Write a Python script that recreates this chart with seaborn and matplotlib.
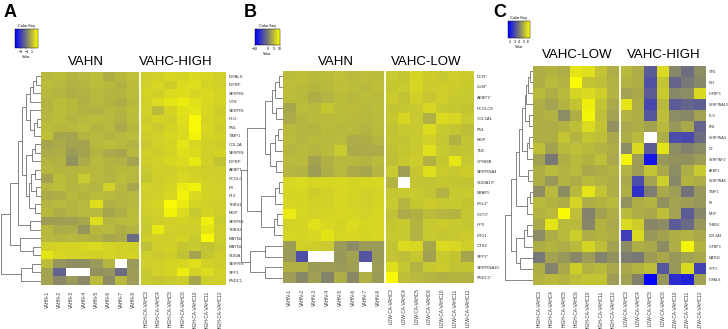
import numpy as np
import pandas as pd
import matplotlib
matplotlib.use("Agg")
import matplotlib.pyplot as plt
import seaborn as sns
from matplotlib.colors import LinearSegmentedColormap, Normalize
from matplotlib.cm import ScalarMappable

nan = np.nan

# ---------------- data ----------------
vahn_cols = ["VAHN-1", "VAHN-2", "VAHN-3", "VAHN-4", "VAHN-5", "VAHN-6", "VAHN-7", "VAHN-8"]
high_cols = ["HIGH-CA-VAHC3", "HIGH-CA-VAHC4", "HIGH-CA-VAHC5", "HIGH-CA-VAHC6",
             "HIGH-CA-VAHC10", "HIGH-CA-VAHC11", "HIGH-CA-VAHC12"]
low_cols = ["LOW-CA-VAHC3", "LOW-CA-VAHC4", "LOW-CA-VAHC5", "LOW-CA-VAHC6",
            "LOW-CA-VAHC10", "LOW-CA-VAHC11", "LOW-CA-VAHC12"]

rows_a = ["IGFALS", "IGFBP", "SERPIN", "VTN", "SERPIN", "PLG", "FN1", "TIMP1", "COL2A",
          "SERPIN", "IGFBP", "AEBP1", "PCOLC", "F9", "F13", "THBS1", "MGP", "SERPIN",
          "THBS2", "MATN4", "MATN2", "S100A", "SERPIN", "SPP1", "FNDC1"]
vals_a = [
    [0.9, 1.0, 0.8, 0.9, 1.0, 0.6, 0.9, 1.1, 1.5, 1.6, 1.8, 1.7, 1.9, 1.8, 1.6],
    [1.0, 0.9, 0.7, 0.8, 1.0, 0.9, 0.7, 1.0, 1.6, 1.8, 1.5, 1.9, 2.0, 1.7, 1.6],
    [0.9, 0.8, 0.6, 0.7, 0.9, 0.8, 0.8, 1.0, 1.7, 1.6, 1.9, 2.0, 1.8, 1.9, 1.7],
    [0.8, 1.0, 0.9, 0.7, 0.9, 0.8, 0.6, 0.9, 1.6, 1.9, 2.2, 2.4, 2.1, 1.8, 1.7],
    [0.8, 1.0, 0.9, 0.8, 0.7, 0.9, 0.8, 1.0, 1.6, 1.0, 1.7, 2.1, 2.2, 1.8, 1.5],
    [0.9, 1.0, 0.8, 0.9, 1.0, 0.9, 0.7, 1.0, 1.5, 1.7, 1.6, 2.0, 2.8, 1.7, 1.6],
    [1.0, 0.9, 0.9, 1.0, 0.8, 0.9, 0.5, 0.9, 1.6, 1.4, 1.7, 1.9, 2.8, 1.8, 1.5],
    [1.1, 0.4, 0.3, 0.8, 0.9, 0.8, 0.9, 1.0, 1.5, 1.6, 1.8, 1.9, 2.6, 1.7, 1.6],
    [0.4, 0.5, 0.3, 0.3, 0.9, 1.0, 0.9, 0.8, 1.4, 1.6, 1.7, 2.2, 1.8, 1.6, 1.5],
    [0.5, 0.6, 0.0, 0.3, 0.8, 0.5, 0.4, 0.9, 1.6, 1.5, 1.7, 2.0, 1.9, 1.6, 1.7],
    [0.8, 0.7, -0.2, 0.5, 0.9, 0.8, 0.7, 0.3, 1.5, 1.6, 1.8, 1.9, 2.3, 1.6, 1.2],
    [0.9, 0.8, 0.8, 0.9, 0.9, 0.8, 0.9, 0.9, 1.4, 1.6, 1.5, 1.7, 1.6, 1.5, 1.5],
    [0.3, 1.0, 0.8, 1.4, 0.9, 0.8, 1.0, 0.9, 1.3, 1.5, 1.6, 1.8, 1.7, 1.6, 1.5],
    [0.9, 1.0, 0.8, 0.9, 0.8, 1.6, 0.9, 0.4, 1.6, 1.5, 1.7, 2.4, 2.6, 1.7, 1.6],
    [0.5, 0.6, 0.9, 0.8, 1.0, 0.9, 0.8, 0.9, 1.5, 1.6, 1.8, 2.6, 1.9, 1.7, 1.6],
    [0.8, 0.9, 0.8, 0.9, 2.0, 0.7, 0.8, 0.9, 1.6, 1.7, 2.8, 2.4, 1.7, 1.6, 1.5],
    [0.9, 0.6, 0.8, 0.9, 0.9, 0.4, 0.6, 1.0, 1.5, 1.6, 2.6, 1.9, 1.4, 1.7, 1.5],
    [0.1, 0.2, 0.2, 0.4, 2.0, 0.8, 0.9, 1.0, 1.4, 1.5, 1.6, 1.7, 1.6, 2.5, 1.4],
    [0.9, 0.5, 0.6, -0.1, 0.9, 0.9, 0.6, 0.8, 1.4, 2.3, 1.6, 1.5, 1.5, 2.2, 1.5],
    [0.9, 0.8, 0.9, 0.8, 0.7, 0.4, 0.5, -1.4, 1.5, 1.6, 1.5, 1.7, 1.4, 2.8, 1.5],
    [1.6, 1.7, 1.7, 1.8, 1.9, 1.7, 1.6, 1.6, 1.1, 1.5, 1.6, 1.3, 1.4, 1.2, 1.4],
    [2.2, 1.8, 1.7, 1.7, 1.6, 1.7, 1.6, 1.7, 1.5, 1.4, 1.5, 1.2, 0.3, 1.3, 1.5],
    [1.0, -0.1, -0.3, -0.3, 0.0, 0.8, nan, 0.0, 1.5, 1.6, 1.7, 1.8, 2.0, 1.6, 1.5],
    [0.3, -1.7, nan, nan, -0.2, -0.1, -1.4, 0.1, 1.4, 1.6, 1.7, 2.4, 1.7, 1.9, 1.6],
    [0.3, -0.5, 0.0, -0.5, 1.0, -0.4, 0.9, 0.1, 1.4, 1.3, 1.4, 1.5, 0.4, 1.5, 1.6],
]
# merges: (left, right, height); ids >= n refer to earlier merges
tree_a = [(0, 1, 1.2), (25, 2, 2.0), (26, 3, 2.8), (5, 6, 1.0), (28, 7, 1.8), (4, 29, 2.6),
          (27, 30, 3.6), (8, 9, 1.4), (32, 10, 2.2), (11, 12, 1.5), (13, 14, 1.2),
          (34, 35, 2.4), (15, 16, 1.6), (36, 37, 3.0), (33, 38, 3.8), (31, 39, 4.6),
          (17, 18, 2.6), (40, 41, 5.6), (20, 21, 2.0), (19, 43, 5.1), (42, 44, 7.6),
          (22, 23, 2.2), (46, 24, 4.9), (45, 47, 10.0)]

rows_b = ["DCN*", "LUM*", "AEBP1*", "PCOLCE", "COL5A1", "FN1", "MGP", "TNC", "GPNMB",
          "SERPINA4", "S100A13*", "MFAP5", "FGL2*", "CST3*", "HPX", "LRG1", "CTSZ",
          "SPP1*", "SERPINA10", "FNDC1*"]
vals_b = [
    [5.0, 5.2, 4.8, 5.0, 5.3, 4.9, 5.1, 5.0, 6.0, 5.8, 6.8, 6.2, 6.0, 6.3, 6.1],
    [5.1, 4.9, 4.6, 4.8, 5.2, 5.0, 4.8, 5.1, 5.8, 6.0, 7.0, 6.1, 6.3, 6.2, 6.0],
    [5.0, 4.8, 4.0, 4.5, 5.0, 4.7, 5.0, 4.9, 6.1, 5.5, 6.5, 5.8, 6.4, 6.0, 5.9],
    [3.5, 5.0, 4.8, 5.8, 5.0, 5.1, 4.8, 5.0, 5.6, 5.8, 5.9, 7.0, 6.0, 5.8, 5.7],
    [3.8, 4.6, 4.8, 4.9, 5.0, 4.8, 4.7, 4.9, 5.8, 7.0, 5.9, 4.2, 7.2, 7.0, 6.0],
    [4.8, 4.6, 4.5, 4.9, 4.7, 4.8, 4.5, 4.9, 5.5, 5.9, 6.0, 7.3, 6.0, 5.6, 5.2],
    [4.9, 4.6, 4.8, 4.7, 4.9, 3.9, 4.0, 4.6, 5.7, 5.6, 6.0, 6.5, 5.8, 4.3, 5.5],
    [4.6, 4.8, 4.6, 4.9, 6.0, 3.8, 3.8, 3.9, 5.4, 5.8, 6.0, 7.6, 5.9, 5.5, 5.7],
    [4.8, 4.9, 3.2, 4.2, 4.8, 4.7, 4.5, 4.9, 5.3, 5.9, 6.2, 4.2, 5.8, 8.2, 5.9],
    [4.6, 4.4, 2.8, 4.0, 4.7, 3.8, 3.5, 4.6, 6.0, 3.0, 5.8, 7.5, 6.1, 5.9, 6.2],
    [7.0, 7.2, 6.9, 7.0, 7.1, 6.8, 7.0, 7.1, 4.5, nan, 5.6, 5.5, 5.8, 5.7, 5.6],
    [6.8, 6.9, 6.3, 6.6, 7.0, 6.8, 6.5, 6.7, 5.8, 5.9, 6.0, 5.7, 4.4, 5.9, 6.0],
    [7.0, 6.8, 6.6, 6.6, 6.9, 6.7, 6.5, 6.8, 6.0, 4.6, 5.8, 6.1, 5.9, 6.0, 5.7],
    [8.5, 6.9, 6.7, 6.8, 7.0, 6.9, 6.7, 6.9, 5.4, 3.8, 4.2, 5.0, 4.6, 4.5, 5.8],
    [6.7, 6.8, 7.6, 7.1, 6.8, 7.3, 6.9, 7.0, 5.8, 6.0, 4.4, 5.9, 6.1, 6.0, 5.8],
    [6.9, 6.8, 7.0, 7.9, 6.9, 7.0, 6.8, 7.0, 5.9, 6.0, 4.3, 6.0, 5.8, 5.9, 6.1],
    [2.8, 6.5, 6.4, 6.0, 2.5, 1.5, 2.5, 2.6, 5.5, 7.2, 7.1, 3.5, 7.2, 7.0, 6.3],
    [2.5, -3.5, nan, nan, 2.4, 3.2, -3.0, 2.5, 5.6, 5.2, 5.8, 3.2, 6.0, 5.7, 3.4],
    [4.2, 4.2, 2.6, 2.8, 2.5, 3.0, nan, 2.8, 7.5, 5.8, 4.4, 5.9, 6.1, 5.5, 5.7],
    [2.8, 1.2, 3.0, 1.0, 4.0, 1.3, 4.2, 2.6, 9.5, 5.2, 4.8, 4.6, 4.2, 4.5, 4.4],
]
tree_b = [(0, 1, 1.0), (20, 2, 1.8), (3, 4, 1.6), (21, 22, 2.6), (5, 6, 1.2), (24, 7, 2.0),
          (8, 9, 1.6), (25, 26, 3.0), (23, 27, 4.2), (10, 11, 1.0), (29, 12, 1.8),
          (13, 14, 1.4), (31, 15, 2.2), (30, 32, 5.3), (28, 33, 8.4), (16, 17, 4.2),
          (18, 19, 4.2), (35, 36, 7.7), (34, 37, 10.0)]

rows_c = ["VTN", "F13", "IGFBP5", "SERPINA10", "PLG", "FN1", "SERPINA4", "C2", "SERPINF2",
          "AEBP1", "SERPINA5", "TIMP1", "F9", "MGP", "THBS2", "COL2A1", "IGFBP3", "MATN2",
          "SPP1", "IGFALS"]
vals_c = [
    [5.0, 5.1, 5.0, 6.0, 5.9, 5.4, 5.0, 5.2, 5.0, 3.4, 5.8, 4.3, 3.8, 4.4],
    [5.0, 5.2, 5.1, 6.4, 5.4, 5.3, 5.1, 5.1, 5.0, 3.2, 5.4, 3.6, 4.0, 4.3],
    [5.2, 5.0, 5.2, 5.7, 5.8, 5.6, 5.1, 4.8, 4.9, 3.4, 5.5, 4.3, 4.4, 5.8],
    [5.0, 4.8, 5.1, 5.4, 6.2, 5.4, 4.9, 6.0, 5.0, 3.0, 5.2, 3.4, 3.6, 3.5],
    [5.0, 5.1, 4.4, 5.0, 6.3, 5.3, 4.8, 5.1, 5.0, 3.3, 5.3, 4.4, 4.3, 4.8],
    [5.0, 5.0, 5.1, 5.3, 5.8, 5.4, 4.5, 4.9, 5.0, 4.8, 5.2, 4.6, 4.9, 3.6],
    [5.0, 5.0, 5.4, 5.1, 5.4, 5.3, 4.9, 5.0, 5.2, nan, 5.0, 3.1, 3.0, 3.8],
    [5.3, 4.8, 5.2, 5.3, 5.2, 5.1, 5.0, 4.4, 5.8, 3.4, 6.0, 4.4, 4.2, 4.4],
    [4.8, 4.0, 5.0, 5.2, 5.1, 5.3, 4.9, 6.3, 4.7, 1.9, 4.6, 4.5, 4.5, 4.7],
    [5.0, 5.2, 5.1, 5.2, 4.9, 5.0, 5.1, 5.1, 4.7, 5.4, 4.9, 4.4, 5.0, 5.5],
    [5.0, 4.6, 5.1, 5.0, 5.2, 5.1, 5.0, 4.9, 3.1, 4.8, 5.6, 4.3, 5.1, 5.0],
    [4.4, 5.2, 4.4, 5.2, 6.0, 5.4, 5.0, 5.0, 2.5, 4.1, 4.9, 4.7, 3.9, 4.6],
    [5.2, 5.1, 5.0, 5.7, 5.0, 5.1, 5.2, 4.5, 5.0, 5.1, 4.5, 4.8, 4.7, 4.6],
    [5.1, 5.2, 6.4, 5.3, 4.2, 4.8, 5.0, 5.2, 5.0, 4.9, 5.3, 4.8, 3.4, 4.3],
    [4.9, 6.0, 5.2, 5.2, 4.3, 5.1, 4.9, 5.8, 5.6, 4.3, 4.4, 3.4, 3.7, 4.6],
    [4.4, 5.0, 5.2, 5.6, 5.0, 5.1, 5.0, 2.8, 5.8, 4.6, 4.8, 5.0, 5.1, 4.9],
    [5.0, 5.1, 5.0, 5.2, 5.7, 5.3, 4.8, 4.4, 5.0, 4.9, 4.4, 5.0, 6.3, 5.1],
    [4.0, 4.8, 4.6, 4.3, 4.7, 4.2, 4.5, 4.1, 4.0, 4.7, 4.9, 4.6, 4.8, 4.9],
    [5.0, 4.2, 4.9, 5.6, 5.1, 5.2, 4.9, 4.9, 5.1, 5.3, 3.3, 4.6, 5.8, 2.9],
    [5.1, 5.2, 5.1, 5.3, 5.4, 5.4, 4.7, 4.8, 4.2, 1.6, 4.6, 2.4, 2.2, 4.8],
]
tree_c = [(0, 1, 1.0), (20, 2, 1.8), (21, 3, 2.4), (4, 5, 1.4), (22, 23, 3.0), (6, 7, 1.4),
          (25, 8, 2.2), (24, 26, 4.0), (9, 10, 1.8), (27, 28, 5.0), (11, 12, 1.2),
          (30, 13, 2.2), (29, 31, 6.2), (14, 15, 2.0), (33, 16, 3.2), (17, 18, 4.6),
          (34, 35, 6.0), (32, 36, 8.0), (37, 19, 10.0)]

key_a = (-5, 3, [-3, -1, 1])
key_b = (-10, 10, [-10, 0, 5, 10])
key_c = (1.5, 6.5, [2, 3, 4, 5, 6])

# ---------------- style ----------------
plt.rcParams['font.family'] = ['Liberation Sans', 'DejaVu Sans']
cmap = LinearSegmentedColormap.from_list('bgy', ['#0000ff', '#777777', '#ffff00'])
line_col = '#707070'

W, H = 728, 329
fig = plt.figure(figsize=(W / 100, H / 100), dpi=100, facecolor='white')


def box(x, y, w, h):
    return [x / W, 1 - (y + h) / H, w / W, h / H]


def draw_tree(ax, merges, n):
    nodes = {i: (i + 0.5, 0.0) for i in range(n)}
    for k, (a, b, h) in enumerate(merges):
        ya, ha = nodes[a]
        yb, hb = nodes[b]
        ax.plot([ha, h, h, hb], [ya, ya, yb, yb], color=line_col, lw=0.6,
                solid_joinstyle='miter')
        nodes[n + k] = ((ya + yb) / 2, h)
    ax.set_ylim(n, 0)
    ax.set_xlim(10.15, 0)
    ax.axis('off')


def draw_panel(vals, rows, cols, split, hm, dend_x, tree, key, kbox, titles, letter,
               row_fs=3):
    x0, y0, w, h = hm
    ax = fig.add_axes(box(x0, y0, w, h))
    df = pd.DataFrame(vals, index=rows, columns=cols)
    sns.heatmap(df, ax=ax, cmap=cmap, vmin=key[0], vmax=key[1], cbar=False,
                xticklabels=True, yticklabels=True)
    ax.yaxis.tick_right()
    ax.set_yticklabels(rows, rotation=0, fontsize=row_fs, color='#333333')
    ax.set_xticklabels(cols, rotation=90, fontsize=3.4, color='#333333')
    ax.tick_params(axis='y', length=0, pad=1.8)
    ax.tick_params(axis='x', length=0, pad=4)
    ax.set_xlabel('')
    ax.set_ylabel('')
    ax.axvline(split, color='white', lw=1.3)

    dax = fig.add_axes(box(dend_x, y0, x0 - dend_x, h))
    draw_tree(dax, tree, len(rows))

    kax = fig.add_axes(box(*kbox))
    sm = ScalarMappable(norm=Normalize(key[0], key[1]), cmap=cmap)
    cb = fig.colorbar(sm, cax=kax, orientation='horizontal')
    cb.outline.set_linewidth(0.3)
    cb.set_ticks(key[2])
    kax.tick_params(labelsize=2.6, length=1, width=0.3, pad=0.5)
    kax.set_title('Color Key', fontsize=2.8, pad=1.5)
    kax.set_xlabel('Value', fontsize=2.4, labelpad=0.5)

    for tx, ty, t in titles:
        fig.text(tx / W, 1 - ty / H, t, fontsize=9.5, ha='center', va='center')
    fig.text(letter[0] / W, 1 - letter[1] / H, letter[2], fontsize=13,
             fontweight='bold', ha='left', va='top')


draw_panel(vals_a, rows_a, vahn_cols + high_cols, 8, (41, 72, 185, 213), 0, tree_a,
           key_a, (15, 29, 23, 19), [(86, 62, 'VAHN'), (176, 62, 'VAHC-HIGH')],
           (4, 4, 'A'))
draw_panel(vals_b, rows_b, vahn_cols + low_cols, 8, (283, 71, 191, 212), 240, tree_b,
           key_b, (255, 29, 25, 16), [(336, 62, 'VAHN'), (426, 62, 'VAHC-LOW')],
           (244, 4, 'B'))
draw_panel(vals_c, rows_c, high_cols + low_cols, 7, (533, 66, 173, 219), 505, tree_c,
           key_c, (508, 21, 22, 17), [(577, 55, 'VAHC-LOW'), (664, 55, 'VAHC-HIGH')],
           (493, 4, 'C'), row_fs=2.6)

fig.savefig('out.png', dpi=100, facecolor='white')
